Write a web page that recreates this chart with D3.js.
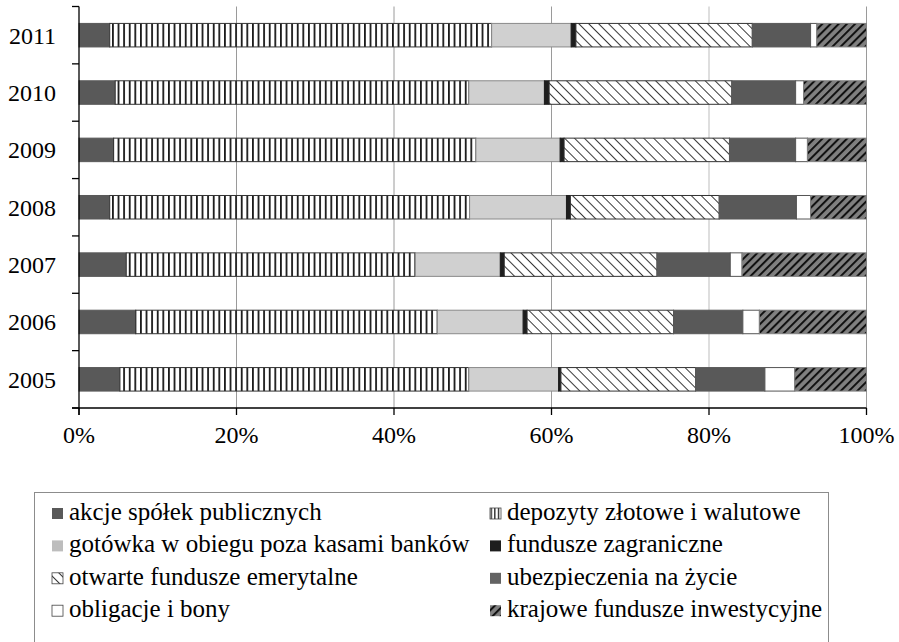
<!DOCTYPE html>
<html>
<head>
<meta charset="utf-8">
<script src="https://cdnjs.cloudflare.com/ajax/libs/d3/7.8.5/d3.min.js"></script>
<style>
  body { margin: 0; background: #fff; }
</style>
</head>
<body>
<script>
// lata (od dołu do góry)
var years = ["2005", "2006", "2007", "2008", "2009", "2010", "2011"];

// udział w %
var akcje        = [5.2, 7.2, 6.0, 3.9, 4.4, 4.6, 3.9];
var depozyty     = [44.3, 38.3, 36.7, 45.7, 46.0, 44.9, 48.5];
var gotowka      = [11.4, 10.9, 10.8, 12.3, 10.7, 9.6, 10.1];
var zagraniczne  = [0.3, 0.5, 0.5, 0.5, 0.5, 0.6, 0.6];
var emerytalne   = [17.1, 18.6, 19.4, 18.9, 21.0, 23.2, 22.4];
var ubezpieczenia = [8.8, 8.8, 9.3, 9.8, 8.4, 8.1, 7.4];
var obligacje    = [3.8, 2.1, 1.5, 1.8, 1.5, 1.0, 0.8];
var krajowe      = [9.1, 13.6, 15.8, 7.1, 7.5, 8.0, 6.3];

var seriesNames = [
  "akcje spółek publicznych",
  "depozyty złotowe i walutowe",
  "gotówka w obiegu poza kasami banków",
  "fundusze zagraniczne",
  "otwarte fundusze emerytalne",
  "ubezpieczenia na życie",
  "obligacje i bony",
  "krajowe fundusze inwestycyjne"
];
var seriesValues = [akcje, depozyty, gotowka, zagraniczne, emerytalne, ubezpieczenia, obligacje, krajowe];

var xTicks = [0, 0.2, 0.4, 0.6, 0.8, 1];

var W = 899, H = 642;
var plotL = 79, plotR = 866.5, plotT = 6.5, plotB = 408;
var serif = "Liberation Serif, DejaVu Serif";

var svg = d3.select("body").append("svg").attr("width", W).attr("height", H)
  .attr("font-family", serif);
var defs = svg.append("defs");

// wzory
var p1 = defs.append("pattern").attr("id", "vert").attr("patternUnits", "userSpaceOnUse")
  .attr("width", 5.6).attr("height", 10);
p1.append("rect").attr("width", 5.6).attr("height", 10).attr("fill", "#fff");
p1.append("rect").attr("x", 0).attr("width", 1.8).attr("height", 10).attr("fill", "#1a1a1a");

var p1l = defs.append("pattern").attr("id", "vertL").attr("patternUnits", "userSpaceOnUse")
  .attr("width", 3.6).attr("height", 10).attr("x", 1);
p1l.append("rect").attr("width", 3.6).attr("height", 10).attr("fill", "#fff");
p1l.append("rect").attr("width", 1.3).attr("height", 10).attr("fill", "#1a1a1a");

var p2 = defs.append("pattern").attr("id", "diag").attr("patternUnits", "userSpaceOnUse")
  .attr("width", 7).attr("height", 7).attr("patternTransform", "rotate(-45)");
p2.append("rect").attr("width", 7).attr("height", 7).attr("fill", "#fff");
p2.append("rect").attr("width", 0.9).attr("height", 7).attr("fill", "#222");

var p3 = defs.append("pattern").attr("id", "kraj").attr("patternUnits", "userSpaceOnUse")
  .attr("width", 5.8).attr("height", 6).attr("patternTransform", "rotate(45)");
p3.append("rect").attr("width", 5.8).attr("height", 6).attr("fill", "#808080");
p3.append("rect").attr("width", 2).attr("height", 6).attr("fill", "#111");

var fills = ["#595959", "url(#vert)", "#d0d0d0", "#1e1e1e", "url(#diag)", "#595959", "#ffffff", "url(#kraj)"];
var strokes = ["#595959", "#333", "#8a8a8a", "#1e1e1e", "#333", "#595959", "#555", "#808080"];
var legendFills = ["#595959", "url(#vertL)", "#bdbdbd", "#1e1e1e", "url(#diag)", "#636363", "#ffffff", "url(#kraj)"];

var x = d3.scaleLinear().domain([0, 1]).range([plotL, plotR]);
var y = d3.scaleBand().domain(years.slice().reverse()).range([plotT, plotB])
  .paddingInner(0.59).paddingOuter(0.295);

// siatka
svg.append("g").selectAll("line").data(xTicks.slice(1)).enter().append("line")
  .attr("x1", function (d) { return x(d); }).attr("x2", function (d) { return x(d); })
  .attr("y1", plotT).attr("y2", plotB)
  .attr("stroke", function (d) { return d === 0.8 ? "#bdbdbd" : "#9a9a9a"; })
  .attr("stroke-width", 1);

// dane do stosu
var table = years.map(function (yr, i) {
  var row = { year: yr };
  seriesNames.forEach(function (n, k) { row[n] = seriesValues[k][i]; });
  return row;
});
var stack = d3.stack().keys(seriesNames).offset(d3.stackOffsetExpand)(table);

svg.append("g").selectAll("g").data(stack).enter().append("g")
  .each(function (s, k) {
    d3.select(this).selectAll("rect").data(s).enter().append("rect")
      .attr("x", function (d) { return x(d[0]); })
      .attr("width", function (d) { return x(d[1]) - x(d[0]); })
      .attr("y", function (d) { return y(d.data.year); })
      .attr("height", y.bandwidth())
      .attr("fill", fills[k])
      .attr("stroke", strokes[k])
      .attr("stroke-width", 1);
  });

// osie
var yAxis = svg.append("g");
yAxis.append("line").attr("x1", plotL).attr("x2", plotL).attr("y1", plotT).attr("y2", plotB + 7)
  .attr("stroke", "#000").attr("stroke-width", 1.3);
var bounds = years.map(function (yr) { return y(yr) - y.step() * 0.295; });
bounds.push(plotB);
yAxis.selectAll(".tk").data(bounds).enter().append("line")
  .attr("x1", plotL - 7).attr("x2", plotL)
  .attr("y1", function (d) { return d; }).attr("y2", function (d) { return d; })
  .attr("stroke", "#000").attr("stroke-width", 1.3);
yAxis.selectAll("text").data(years).enter().append("text")
  .attr("x", 56).attr("y", function (d) { return y(d) + y.bandwidth() / 2 + 8.5; })
  .attr("text-anchor", "end").attr("font-size", 24).attr("font-family", serif)
  .text(function (d) { return d; });

var xAxis = svg.append("g");
xAxis.append("line").attr("x1", plotL - 7).attr("x2", plotR).attr("y1", plotB).attr("y2", plotB)
  .attr("stroke", "#000").attr("stroke-width", 1.3);
xAxis.selectAll("line.tk").data(xTicks).enter().append("line")
  .attr("x1", function (d) { return x(d); }).attr("x2", function (d) { return x(d); })
  .attr("y1", plotB).attr("y2", plotB + 7)
  .attr("stroke", "#000").attr("stroke-width", 1.3);
var fmt = d3.format(".0%");
xAxis.selectAll("text").data(xTicks).enter().append("text")
  .attr("x", function (d) { return x(d); }).attr("y", 443)
  .attr("text-anchor", "middle").attr("font-size", 24).attr("font-family", serif)
  .text(function (d) { return fmt(d); });

// legenda
var lg = svg.append("g");
lg.append("rect").attr("x", 34.5).attr("y", 492.5).attr("width", 794).attr("height", 170)
  .attr("fill", "none").attr("stroke", "#8c8c8c").attr("stroke-width", 1);

var colX = [52, 490];
seriesNames.forEach(function (n, k) {
  var cx = colX[k % 2];
  var by = 520 + Math.floor(k / 2) * 32.4;
  lg.append("rect").attr("x", cx).attr("y", by - 12).attr("width", 11).attr("height", 11)
    .attr("fill", legendFills[k])
    .attr("stroke", (k === 1 || k === 4 || k === 6) ? "#444" : "none").attr("stroke-width", 0.8);
  lg.append("text").attr("x", cx + 17).attr("y", by)
    .attr("font-size", 25).attr("font-family", serif).text(n);
});
</script>
</body>
</html>
